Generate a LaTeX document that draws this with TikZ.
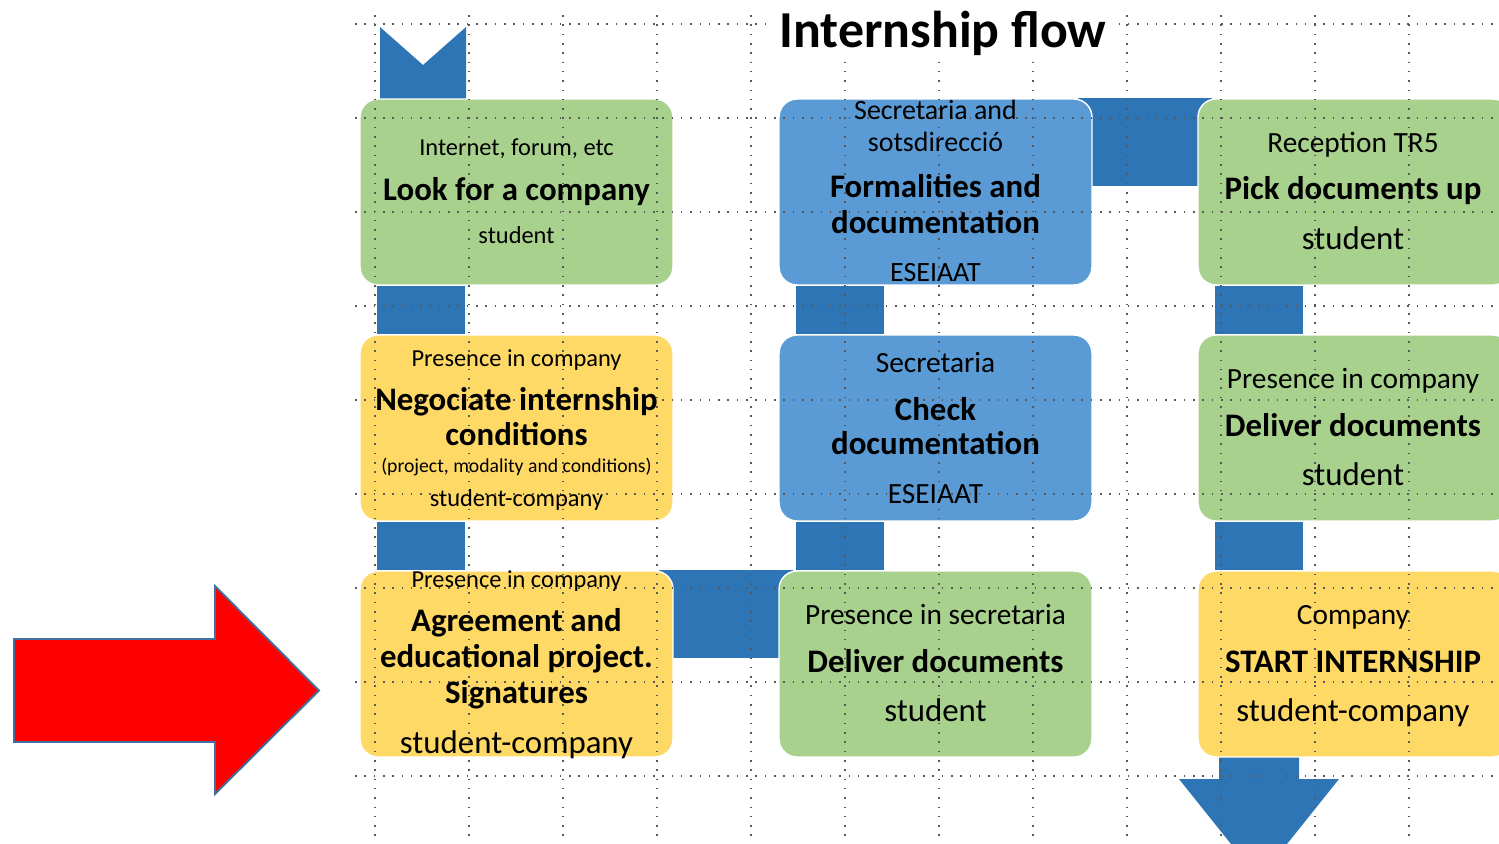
\documentclass[tikz,border=0pt]{standalone}
\usepackage{fontspec}
\setmainfont{Carlito}
\usetikzlibrary{backgrounds}
\definecolor{boxgreen}{HTML}{A9D18E}
\definecolor{boxyellow}{HTML}{FFD966}
\definecolor{boxblue}{HTML}{5B9BD5}
\definecolor{linkblue}{HTML}{2E75B6}
\definecolor{arrowedge}{HTML}{41719C}
\tikzset{
  stage/.style={rounded corners=0.36cm, minimum width=6.26cm, minimum height=3.72cm,
    inner sep=0pt, draw=white, line width=0.8pt},
  link/.style={fill=linkblue},
  gridline/.style={gray!70!black, line width=0.9pt, dash pattern=on 0.9pt off 4.4pt},
  txt/.style={anchor=base, inner sep=0pt, yshift=-0.04cm},
  fa/.style={txt, font=\fontsize{13.9pt}{16pt}\selectfont},
  fb/.style={txt, font=\fontsize{15.9pt}{18pt}\selectfont},
  fc/.style={txt, font=\fontsize{16.7pt}{19pt}\selectfont},
  fd/.style={txt, font=\fontsize{18.7pt}{21pt}\selectfont},
  fe/.style={txt, font=\fontsize{11.2pt}{13pt}\selectfont},
  task/.style={txt, font=\fontsize{18.7pt}{21pt}\selectfont\bfseries},
}
\begin{document}
\begin{tikzpicture}[x=0.02cm,y=-0.02cm]
\clip (0,0) rectangle (1499,843);
% stages
\node[stage, fill=boxgreen] (look) at (516.5,192){};
\node[stage, fill=boxyellow] (nego) at (516.5,428){};
\node[stage, fill=boxyellow] (agree) at (516.5,664){};
\node[stage, fill=boxblue] (formal) at (935.5,192){};
\node[stage, fill=boxblue] (check) at (935.5,428){};
\node[stage, fill=boxgreen] (delsec) at (935.5,664){};
\node[stage, fill=boxgreen] (pick) at (1354.5,192){};
\node[stage, fill=boxgreen] (delco) at (1354.5,428){};
\node[stage, fill=boxyellow] (start) at (1354.5,664){};
% links behind the stages
\begin{scope}[on background layer]
\fill[white] (0,0) rectangle (1499,843);
\fill[link] (380,27) -- (423,65) -- (466,27) -- (466,101) -- (380,101) -- cycle;
\fill[link] ([xshift=0.36cm]look.south west) rectangle ([xshift=2.12cm]nego.north west);
\fill[link] ([xshift=0.36cm]nego.south west) rectangle ([xshift=2.12cm]agree.north west);
\fill[link] ([xshift=-0.3cm]agree.north east) rectangle ([xshift=0.3cm,yshift=-1.76cm]delsec.north west);
\fill[link] ([xshift=0.36cm]delsec.north west) rectangle ([xshift=2.12cm]check.south west);
\fill[link] ([xshift=0.36cm]check.north west) rectangle ([xshift=2.12cm]formal.south west);
\fill[link] ([xshift=-0.3cm]formal.north east) rectangle ([xshift=0.3cm,yshift=-1.76cm]pick.north west);
\fill[link] ([xshift=0.36cm]pick.south west) rectangle ([xshift=2.12cm]delco.north west);
\fill[link] ([xshift=0.36cm]delco.south west) rectangle ([xshift=2.12cm]start.north west);
\fill[link] (1219,750) -- (1299,750) -- (1299,779) -- (1339,779) -- (1259,879) -- (1179,779) -- (1219,779) -- cycle;
\end{scope}
% dotted grid
\foreach \gx in {375,469,...,1503}
  \draw[gridline] (\gx,15) -- (\gx,843);
\foreach \gy in {24,118,...,776}
  \draw[gridline] (355,\gy) -- (1499,\gy);
% title
\node[anchor=base, fill=white, inner xsep=6pt, inner ysep=3pt,
  font=\fontsize{29.5pt}{33pt}\selectfont\bfseries] (title) at (943,47){Internship flow};
% texts
\node[fa] (look1) at (516.5,153.3){Internet, forum, etc};
\node[task] (look2) at (516.5,198.3){Look for a company};
\node[fa] (look3) at (516.5,241.7){student};
\node[fa] (nego1) at (516.5,364.3){Presence in company};
\node[task] (nego2) at (516.5,408.3){Negociate internship};
\node[task] (nego3) at (516.5,443.3){conditions};
\node[fe] (nego4) at (516.5,470){(project, modality and conditions)};
\node[fa] (nego5) at (516.5,504.3){student-company};
\node[fa] (agree1) at (516.5,585.7){Presence in company};
\node[task] (agree2) at (516.5,629){Agreement and};
\node[task] (agree3) at (516.5,665){educational project.};
\node[task] (agree4) at (516.5,701.7){Signatures};
\node[fd] (agree5) at (516.5,751.7){student-company};
\node[fb] (formal1) at (935.5,117.7){Secretaria and};
\node[fb] (formal2) at (935.5,149){sotsdirecció};
\node[task] (formal3) at (935.5,195.7){Formalities and};
\node[task] (formal4) at (935.5,231.7){documentation};
\node[fb] (formal5) at (935.5,279){ESEIAAT};
\node[fc] (check1) at (935.5,370){Secretaria};
\node[task] (check2) at (935.5,418.3){Check};
\node[task] (check3) at (935.5,452.7){documentation};
\node[fc] (check4) at (935.5,501.7){ESEIAAT};
\node[fc] (delsec1) at (935.5,622){Presence in secretaria};
\node[task] (delsec2) at (935.5,670){Deliver documents};
\node[fd] (delsec3) at (935.5,719.3){student};
\node[fc] (pick1) at (1353,150){Reception TR5};
\node[task] (pick2) at (1353,197.3){Pick documents up};
\node[fd] (pick3) at (1353,247.7){student};
\node[fc] (delco1) at (1353,386){Presence in company};
\node[task] (delco2) at (1353,434){Deliver documents};
\node[fd] (delco3) at (1353,483.3){student};
\node[fc] (start1) at (1353,622){Company};
\node[task] (start2) at (1353,670){START INTERNSHIP};
\node[fd] (start3) at (1353,719.3){student-company};
% red pointer
\draw[fill=red, draw=arrowedge, line width=1.1pt, line join=miter]
  (14,639) -- (215,639) -- (215,586) -- (319,690.5) -- (215,794) -- (215,742) -- (14,742) -- cycle;
\end{tikzpicture}
\end{document}
